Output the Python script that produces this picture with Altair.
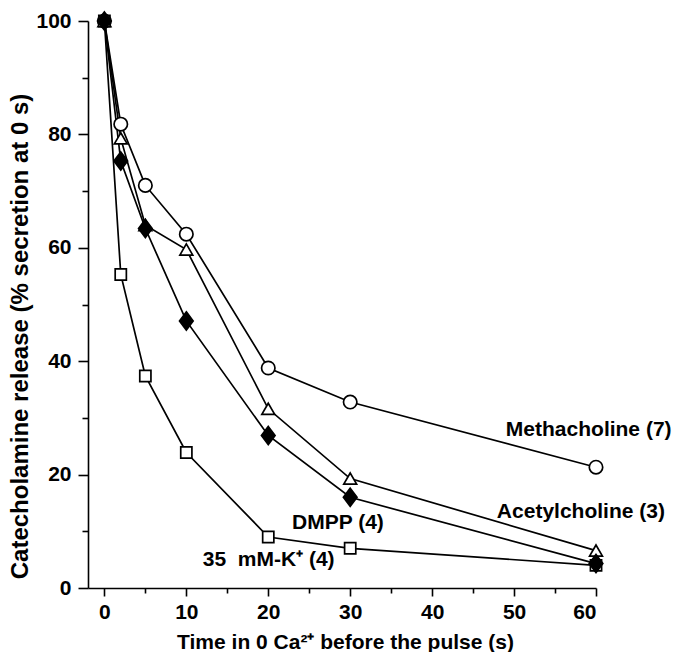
import altair as alt
import pandas as pd

# ---- data ----
times = [0, 2, 5, 10, 20, 30, 60]
methacholine = [100, 81.8, 71.0, 62.4, 38.8, 32.8, 21.3]
acetylcholine = [100, 79.3, 64.0, 59.7, 31.6, 19.3, 6.6]
dmpp = [100, 75.3, 63.4, 47.1, 26.9, 16.0, 4.3]
potassium = [100, 55.3, 37.4, 23.9, 9.0, 7.0, 4.0]

series_names = ["35 mM-K+", "Methacholine", "Acetylcholine", "DMPP"]
series_values = [potassium, methacholine, acetylcholine, dmpp]

label_texts = ["Methacholine (7)", "Acetylcholine (3)", "DMPP (4)", "35\u00a0\u00a0mM-K\u207a (4)"]
label_x = [49.0, 47.9, 22.9, 12.0]
label_y = [27.9, 13.4, 11.5, 4.9]

x_major = [0, 10, 20, 30, 40, 50, 60]
x_minor = [5, 15, 25, 35, 45, 55]
y_major = [0, 20, 40, 60, 80, 100]
y_minor = [10, 30, 50, 70, 90]

rows = []
for name, vals in zip(series_names, series_values):
    for t, v in zip(times, vals):
        rows.append({"series": name, "t": t, "v": v})
df = pd.DataFrame(rows)
labels = pd.DataFrame({"text": label_texts, "x": label_x, "y": label_y})

FONT = "Liberation Sans"
xs = alt.Scale(domain=[-2, 60], nice=False, zero=False)
ys = alt.Scale(domain=[0, 100], nice=False, zero=False)

base = alt.Chart(df)

lines = base.mark_line(color="black", strokeWidth=1.7).encode(
    x=alt.X("t:Q", scale=xs, axis=alt.Axis(
        orient="bottom", values=x_major, tickSize=8, tickWidth=1.6,
        domainWidth=1.6, labelPadding=5, grid=False,
        title="Time in 0 Ca\u00b2\u207a before the pulse (s)",
        titleFont=FONT, titleFontSize=21, titleFontWeight="bold",
        titleX=257, titleY=60, titleBaseline="alphabetic", titleAlign="center",
    )),
    y=alt.Y("v:Q", scale=ys, axis=alt.Axis(
        orient="left", values=y_major, tickSize=10, tickWidth=1.6,
        domainWidth=1.6, labelPadding=7, grid=False,
        title="Catecholamine release (% secretion at 0 s)",
        titleFont=FONT, titleFontSize=24, titleFontWeight="bold",
        titleAngle=270, titleX=-68, titleY=315, titleAlign="center",
        titleBaseline="middle",
    )),
    detail="series:N",
)

minor = base.mark_point(opacity=0).encode(
    x=alt.X("t:Q", scale=xs, axis=alt.Axis(
        orient="bottom", values=x_minor, tickSize=5, tickWidth=1.6,
        labels=False, domain=False, grid=False, title=None)),
    y=alt.Y("v:Q", scale=ys, axis=alt.Axis(
        orient="left", values=y_minor, tickSize=6, tickWidth=1.6,
        labels=False, domain=False, grid=False, title=None)),
)


def pts(name, shape, fill, size):
    return base.transform_filter(alt.datum.series == name).mark_point(
        shape=shape, filled=True, fill=fill, stroke="black",
        strokeWidth=1.7, size=size, opacity=1,
    ).encode(
        x=alt.X("t:Q", scale=xs, axis=None),
        y=alt.Y("v:Q", scale=ys, axis=None),
    )


squares = pts("35 mM-K+", "square", "white", 125)
circles = pts("Methacholine", "circle", "white", 180)
triangles = pts("Acetylcholine", "triangle-up", "white", 165)
diamonds = pts("DMPP", "M0,-1L0.75,0L0,1L-0.75,0Z", "black", 330)

text = alt.Chart(labels).mark_text(
    align="left", baseline="middle", font=FONT, fontSize=21,
    fontWeight="bold", color="black",
).encode(
    x=alt.X("x:Q", scale=xs, axis=None),
    y=alt.Y("y:Q", scale=ys, axis=None),
    text="text:N",
)

chart = alt.layer(lines, minor, squares, circles, triangles, diamonds, text).resolve_axis(
    x="independent", y="independent"
).properties(
    width=508, height=567,
    padding={"left": 88, "top": 21, "right": 79, "bottom": 64},
    autosize=alt.AutoSizeParams(type="none"),
    background="white",
).configure_view(stroke=None).configure_axis(
    labelFont=FONT, labelFontSize=21, labelFontWeight="bold", labelColor="black",
    tickColor="black", domainColor="black", titleColor="black",
)

chart.save("out.html", embed_options={"renderer": "svg", "actions": False})
